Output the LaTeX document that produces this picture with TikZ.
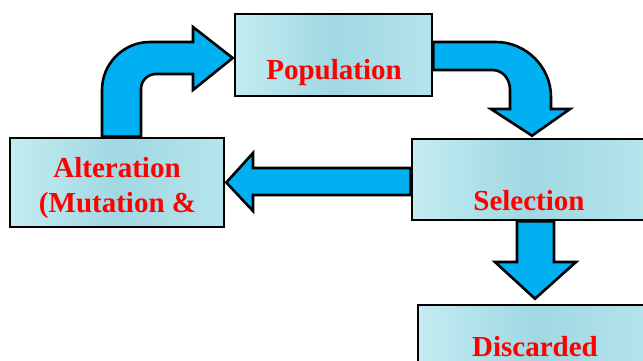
\documentclass[tikz,border=0pt]{standalone}
\usepackage{fontspec}
\newfontfamily\labelfont{Liberation Serif}[BoldFont={Liberation Serif Bold}]
\usetikzlibrary{calc}
\pgfdeclarelayer{background}
\pgfsetlayers{background,main}
\definecolor{arrowblue}{RGB}{0,176,240}
\definecolor{waterA}{RGB}{196,236,242}
\definecolor{waterB}{RGB}{160,216,226}
\definecolor{txtred}{RGB}{255,0,0}
\begin{document}
\begin{tikzpicture}[x=1pt,y=-1pt,
  box/.style={draw=black,line width=2.6pt,inner sep=0pt,
    left color=waterA,right color=waterA!60!waterB,middle color=waterB,
    minimum width=#1},
  lbl/.style={font=\labelfont\fontsize{29}{35}\selectfont\bfseries,text=txtred,inner sep=0pt,anchor=base},
  blockarrow/.style={fill=arrowblue,draw=black,line width=2.6pt,line join=miter}]
\useasboundingbox (0,0) rectangle (643,360);
\clip (0,0) rectangle (643,360);
% boxes
\node[box=197pt,minimum height=82pt] (pop) at (333.5,55) {};
\node[box=214pt,minimum height=89pt] (alt) at (117,182.5) {};
\node[box=234pt,minimum height=81pt] (sel) at (529,179.5) {};
\node[box=234pt,minimum height=81pt] (dis) at (535,345.5) {};
% labels
\node[lbl] (poptxt) at (334,79.5) {Population};
\node[lbl] (alttxt1) at (117,177) {Alteration};
\node[lbl] (alttxt2) at (117.5,212) {(Mutation \&};
\node[lbl] (seltxt) at (529,210.5) {Selection};
\node[lbl] (distxt) at (535,356.5) {Discarded};
% arrows
\begin{pgfonlayer}{background}
% alteration -> population
\draw[blockarrow] ($(alt.north)+(-15,0)$) -- (102,90)
  .. controls (102,63.5) and (123.5,42) .. (150,42) -- (193,42) -- (193,27)
  -- ($(pop.west)+(-1,3)$) -- (193,90) -- (193,74) -- (156,74)
  .. controls (147.7,74) and (141,80.7) .. (141,89) -- ($(alt.north)+(24,0)$) -- cycle;
% population -> selection
\draw[blockarrow] ($(pop.east)+(0,-13)$) -- (496,42)
  .. controls (526,42) and (551,67) .. (551,97) -- (551,109) -- (570,109)
  -- ($(sel.north)+(3,-2)$) -- (491,109) -- (510,109) -- (510,90)
  .. controls (510,79) and (503,70) .. (492,70) -- ($(pop.east)+(0,15)$) -- cycle;
% selection -> alteration
\draw[blockarrow] ($(sel.west)+(0,-11.5)$) -- (253,168) -- (253,153)
  -- ($(alt.east)+(1,0)$) -- (253,211) -- (253,195) -- ($(sel.west)+(0,15.5)$) -- cycle;
% selection -> discarded
\draw[blockarrow] ($(sel.south)+(-12,0)$) -- (517,262) -- (495,262)
  -- ($(dis.north)+(0,-5)$) -- (576,262) -- (554,262) -- ($(sel.south)+(25,0)$) -- cycle;
\end{pgfonlayer}
\end{tikzpicture}
\end{document}
